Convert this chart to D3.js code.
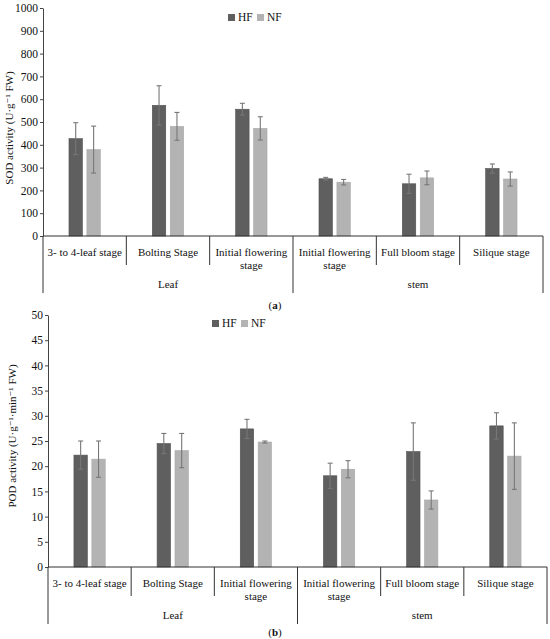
<!DOCTYPE html>
<html lang="en">
<head>
<meta charset="utf-8">
<script src="https://d3js.org/d3.v7.min.js"></script>
<style>
  body { margin: 0; background: #fff; }
  svg text { font-family: "Liberation Serif", "DejaVu Serif", serif; fill: #111; }
</style>
</head>
<body>
<script>
// stages along the x axis, two organs
var stages = ["3- to 4-leaf stage", "Bolting Stage", "Initial flowering|stage",
              "Initial flowering|stage", "Full bloom stage", "Silique stage"];
var organs = ["Leaf", "stem"];
var organSpan = [3, 3];
var series = ["HF", "NF"];

// SOD (panel a)
var sodHF    = [427, 573, 556, 251, 229, 296];
var sodHFErr = [70, 86, 26, 6, 42, 20];
var sodNF    = [379, 481, 472, 236, 255, 250];
var sodNFErr = [103, 61, 51, 12, 30, 31];
var sodTicks = d3.range(0, 1001, 100);

// POD (panel b)
var podHF    = [22.2, 24.5, 27.4, 18.1, 22.9, 28.0];
var podHFErr = [2.8, 2.0, 1.9, 2.5, 5.7, 2.6];
var podNF    = [21.4, 23.1, 24.8, 19.4, 13.3, 22.0];
var podNFErr = [3.6, 3.4, 0.2, 1.7, 1.8, 6.6];
var podTicks = d3.range(0, 51, 5);

var width = 550, height = 639;
var colors = {HF: "#5f5f5f", NF: "#b3b3b3"};

var svg = d3.select("body").append("svg")
  .attr("width", width)
  .attr("height", height);

function drawPanel(p) {
  var g = svg.append("g");
  var x = d3.scaleBand().domain(d3.range(stages.length)).range([p.x0, p.x1]);
  var inner = d3.scaleBand().domain(series).range([0, x.bandwidth()]).paddingInner(0.25).paddingOuter(1.45);
  var y = d3.scaleLinear().domain([0, p.ticks[p.ticks.length - 1]]).range([p.y0, p.yTop]);

  // y axis
  var yAxis = g.append("g")
    .attr("transform", "translate(" + p.x0 + ",0)")
    .call(d3.axisLeft(y).tickValues(p.ticks).tickFormat(d3.format("d"))
      .tickSize(3).tickPadding(2).tickSizeOuter(0));
  yAxis.select(".domain").attr("stroke", "#444");
  yAxis.selectAll(".tick line").attr("stroke", "#444");
  yAxis.selectAll("text").style("font-size", "11.5px").attr("fill", "#111");

  g.append("text")
    .attr("transform", "translate(" + p.titleX + "," + p.titleY + ") rotate(-90)")
    .attr("text-anchor", "middle")
    .style("font-size", "11px")
    .text(p.title);

  // bars
  var rows = [];
  stages.forEach(function(s, i) {
    rows.push({i: i, k: "HF", v: p.hf[i], e: p.hfErr[i]});
    rows.push({i: i, k: "NF", v: p.nf[i], e: p.nfErr[i]});
  });

  g.selectAll("rect.bar").data(rows).enter().append("rect")
    .attr("class", "bar")
    .attr("x", function(d) { return x(d.i) + inner(d.k); })
    .attr("width", inner.bandwidth())
    .attr("y", function(d) { return y(d.v); })
    .attr("height", function(d) { return p.y0 - y(d.v); })
    .attr("fill", function(d) { return colors[d.k]; })
    .attr("stroke", function(d) { return d.k == "HF" ? "#505050" : "#aaa"; })
    .attr("stroke-width", 0.6);

  // error bars
  var eb = g.selectAll("g.err").data(rows).enter().append("g").attr("class", "err")
    .attr("stroke", "#777").attr("stroke-width", 1.1);
  function cx(d) { return x(d.i) + inner(d.k) + inner.bandwidth() / 2; }
  eb.append("line")
    .attr("x1", cx).attr("x2", cx)
    .attr("y1", function(d) { return y(d.v - d.e); })
    .attr("y2", function(d) { return y(d.v + d.e); });
  eb.append("line")
    .attr("x1", function(d) { return cx(d) - 2.5; }).attr("x2", function(d) { return cx(d) + 2.5; })
    .attr("y1", function(d) { return y(d.v + d.e); }).attr("y2", function(d) { return y(d.v + d.e); });
  eb.append("line")
    .attr("x1", function(d) { return cx(d) - 2.5; }).attr("x2", function(d) { return cx(d) + 2.5; })
    .attr("y1", function(d) { return y(d.v - d.e); }).attr("y2", function(d) { return y(d.v - d.e); });

  // x axis line + category boxes
  g.append("line").attr("x1", p.x0).attr("x2", p.x1).attr("y1", p.y0).attr("y2", p.y0)
    .attr("stroke", "#333").attr("stroke-width", 1.2);

  var bounds = d3.range(stages.length + 1);
  var groupEdges = [0];
  organSpan.reduce(function(a, n) { groupEdges.push(a + n); return a + n; }, 0);
  bounds.forEach(function(b) {
    var xb = b < stages.length ? x(b) : p.x1;
    var long = groupEdges.indexOf(b) >= 0;
    g.append("line")
      .attr("x1", xb).attr("x2", xb)
      .attr("y1", p.y0).attr("y2", long ? p.groupLineEnd : p.catLineEnd)
      .attr("stroke", "#333").attr("stroke-width", 1);
  });

  stages.forEach(function(s, i) {
    var parts = s.split("|");
    var t = g.append("text")
      .attr("text-anchor", "middle")
      .style("font-size", "11px");
    parts.forEach(function(line, j) {
      t.append("tspan")
        .attr("x", x(i) + x.bandwidth() / 2)
        .attr("y", p.catY + j * 12.5)
        .text(line);
    });
  });

  organs.forEach(function(o, k) {
    var a = groupEdges[k], b = groupEdges[k + 1];
    var xa = x(a), xb = b < stages.length ? x(b) : p.x1;
    g.append("text")
      .attr("x", (xa + xb) / 2)
      .attr("y", p.organY)
      .attr("text-anchor", "middle")
      .style("font-size", "11px")
      .text(o);
  });

  // legend
  var lg = g.append("g").attr("transform", "translate(" + p.legX + "," + p.legY + ")");
  var lx = 0;
  series.forEach(function(s) {
    lg.append("rect").attr("x", lx).attr("y", -7).attr("width", 7).attr("height", 7)
      .attr("fill", colors[s]);
    lg.append("text").attr("x", lx + 10).attr("y", 0)
      .style("font-size", "11.5px")
      .text(s);
    lx += 29;
  });

  // panel label
  var lab = g.append("text")
    .attr("x", p.labelX).attr("y", p.labelY)
    .attr("text-anchor", "middle")
    .style("font-size", "11px");
  lab.append("tspan").text("(");
  lab.append("tspan").style("font-weight", "bold").text(p.label);
  lab.append("tspan").text(")");
}

drawPanel({
  hf: sodHF, hfErr: sodHFErr, nf: sodNF, nfErr: sodNFErr, ticks: sodTicks,
  x0: 43, x1: 543, y0: 236, yTop: 8,
  title: "SOD activity (U·g\u207B\u00B9 FW)", titleX: 13, titleY: 128,
  catY: 256, catLineEnd: 265, groupLineEnd: 293, organY: 288,
  legX: 228, legY: 21, label: "a", labelX: 275, labelY: 309
});

drawPanel({
  hf: podHF, hfErr: podHFErr, nf: podNF, nfErr: podNFErr, ticks: podTicks,
  x0: 48, x1: 547, y0: 567, yTop: 315,
  title: "POD activity (U·g\u207B\u00B9·min\u207B\u00B9 FW)", titleX: 16, titleY: 436,
  catY: 587, catLineEnd: 596, groupLineEnd: 624, organY: 619,
  legX: 212, legY: 327, label: "b", labelX: 275, labelY: 636
});
</script>
</body>
</html>
